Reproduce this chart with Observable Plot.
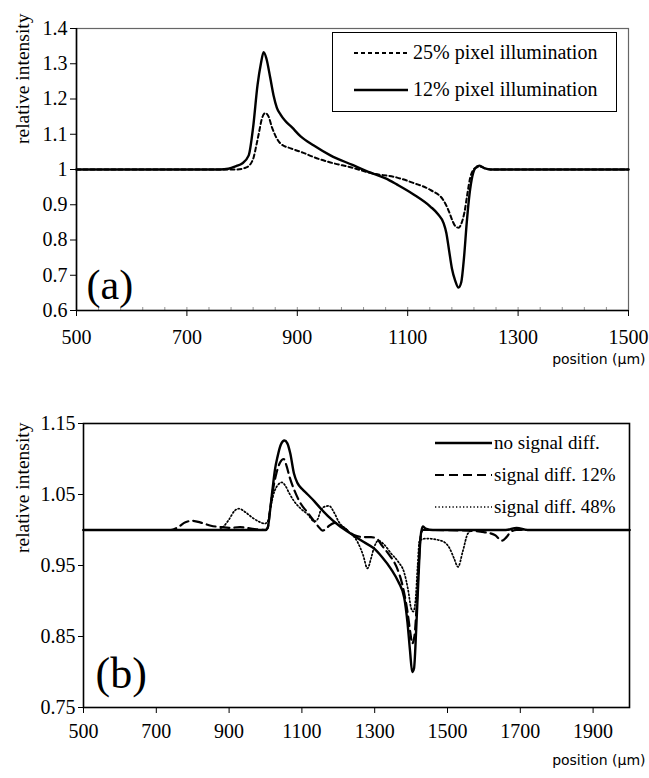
<!DOCTYPE html>
<html>
<head>
<meta charset="utf-8">
<script src="https://cdn.jsdelivr.net/npm/d3@7"></script>
<script src="https://cdn.jsdelivr.net/npm/@observablehq/plot@0.6"></script>
<style>
  html, body { margin: 0; padding: 0; background: #fff; }
  #wrap { position: relative; width: 649px; height: 778px; overflow: hidden; }
  #wrap svg { display: block; }
  #wrap svg, #wrap svg text { font-family: "Liberation Serif", "DejaVu Serif", serif; }
  #wrap svg .sans text, #wrap svg text.sans { font-family: "DejaVu Sans", sans-serif; }
  .overlay { position: absolute; left: 0; top: 0; pointer-events: none; }
</style>
</head>
<body>
<div id="wrap"></div>
<script>
// ---------- Panel (a) data ----------
const posA12 = [500, 760, 775, 790, 800, 812, 820, 828, 834, 839, 844, 851, 857, 863, 870, 878, 890, 906, 930, 960, 1000, 1033, 1060, 1081, 1110, 1141, 1155, 1165, 1170, 1175, 1180, 1186, 1192, 1197, 1202, 1207, 1212, 1217, 1222, 1230, 1240, 1250, 1500];
const valA12 = [1.0, 1.0, 1.002, 1.01, 1.017, 1.04, 1.12, 1.24, 1.30, 1.333, 1.315, 1.26, 1.21, 1.175, 1.155, 1.138, 1.12, 1.094, 1.068, 1.04, 1.013, 0.991, 0.975, 0.957, 0.93, 0.895, 0.873, 0.848, 0.82, 0.77, 0.72, 0.685, 0.665, 0.68, 0.75, 0.85, 0.93, 0.98, 1.003, 1.011, 1.003, 1.0, 1.0];
const posA25 = [500, 790, 806, 815, 821, 826, 830, 836, 842, 848, 854, 860, 870, 888, 910, 930, 960, 1000, 1033, 1081, 1110, 1141, 1165, 1175, 1181, 1187, 1192, 1198, 1203, 1208, 1213, 1218, 1225, 1232, 1240, 1250, 1500];
const valA25 = [1.0, 1.0, 1.005, 1.015, 1.035, 1.07, 1.10, 1.145, 1.16, 1.15, 1.12, 1.097, 1.073, 1.06, 1.048, 1.035, 1.02, 1.005, 0.99, 0.977, 0.962, 0.942, 0.912, 0.88, 0.855, 0.838, 0.835, 0.85, 0.88, 0.93, 0.975, 0.997, 1.006, 1.008, 1.003, 1.0, 1.0];
const ticksXA = [500, 700, 900, 1100, 1300, 1500];
const minorXA = d3.range(540, 1500, 40);
const ticksYA = [0.6, 0.7, 0.8, 0.9, 1.0, 1.1, 1.2, 1.3, 1.4];
const legendA = ["25% pixel illumination", "12% pixel illumination"];

// ---------- Panel (b) data ----------
const posB0 = [500, 1000, 1006, 1012, 1019, 1026, 1033, 1042, 1052, 1060, 1068, 1078, 1088, 1100, 1116, 1135, 1152, 1171, 1200, 1243, 1270, 1298, 1320, 1345, 1365, 1381, 1390, 1397, 1403, 1408, 1414, 1420, 1426, 1432, 1440, 1460, 1660, 1690, 1720, 2000];
const valB0 = [1.0, 1.0, 1.003, 1.025, 1.056, 1.085, 1.103, 1.12, 1.126, 1.122, 1.108, 1.08, 1.066, 1.058, 1.05, 1.04, 1.03, 1.02, 1.007, 0.992, 0.983, 0.974, 0.962, 0.945, 0.927, 0.905, 0.87, 0.83, 0.80, 0.805, 0.86, 0.93, 0.99, 1.005, 1.002, 1.0, 1.0, 1.003, 1.0, 1.0];
const posB12 = [500, 740, 760, 780, 800, 825, 850, 880, 900, 930, 960, 1000, 1006, 1013, 1020, 1030, 1040, 1050, 1058, 1066, 1080, 1097, 1115, 1130, 1145, 1157, 1170, 1190, 1210, 1243, 1270, 1290, 1305, 1320, 1340, 1360, 1375, 1390, 1398, 1403, 1409, 1415, 1421, 1426, 1432, 1460, 1560, 1600, 1630, 1650, 1662, 1675, 1690, 2000];
const valB12 = [1.0, 1.0, 1.004, 1.011, 1.013, 1.01, 1.006, 1.004, 1.003, 1.004, 1.002, 1.0, 1.003, 1.03, 1.055, 1.08, 1.095, 1.10, 1.09, 1.075, 1.055, 1.037, 1.025, 1.015, 1.005, 0.999, 1.004, 1.01, 1.005, 0.993, 0.99, 0.99, 0.988, 0.978, 0.965, 0.948, 0.925, 0.885, 0.855, 0.84, 0.85, 0.89, 0.95, 0.99, 1.0, 1.0, 0.999, 0.997, 0.993, 0.985, 0.99, 0.998, 1.0, 1.0];
const posB48 = [500, 870, 885, 900, 915, 927, 945, 965, 985, 998, 1006, 1015, 1025, 1035, 1045, 1055, 1065, 1078, 1097, 1116, 1134, 1143, 1152, 1163, 1175, 1188, 1202, 1226, 1253, 1268, 1280, 1290, 1298, 1310, 1325, 1345, 1365, 1381, 1392, 1400, 1406, 1412, 1418, 1423, 1441, 1482, 1505, 1518, 1529, 1542, 1556, 1570, 2000];
const valB48 = [1.0, 1.0, 1.005, 1.015, 1.027, 1.03, 1.025, 1.017, 1.011, 1.009, 1.012, 1.035, 1.055, 1.064, 1.067, 1.062, 1.052, 1.041, 1.03, 1.022, 1.012, 1.015, 1.028, 1.033, 1.034, 1.025, 1.011, 0.999, 0.983, 0.965, 0.946, 0.96, 0.975, 0.985, 0.98, 0.967, 0.955, 0.94, 0.915, 0.89, 0.885, 0.90, 0.95, 0.985, 0.988, 0.985, 0.975, 0.96, 0.948, 0.97, 0.995, 1.0, 1.0];
const ticksXB = [500, 700, 900, 1100, 1300, 1500, 1700, 1900];
const ticksYB = [0.75, 0.85, 0.95, 1.05, 1.15];
const legendB = ["no signal diff.", "signal diff. 12%", "signal diff. 48%"];

const xLabel = "position (\u00b5m)";
const yLabel = "relative intensity";

const zip = (xs, ys) => xs.map((x, i) => ({x, y: ys[i]}));

const wrap = document.getElementById("wrap");

// ---------- Panel (a) ----------
const plotA = Plot.plot({
  width: 649, height: 370,
  marginLeft: 76, marginRight: 21, marginTop: 28, marginBottom: 60,
  style: {fontSize: "20px", color: "#000", background: "#fff", overflow: "visible"},
  x: {domain: [500, 1500]},
  y: {domain: [0.6, 1.4]},
  marks: [
    Plot.frame({stroke: "#666", strokeWidth: 1.2}),
    Plot.axisX({ticks: minorXA, tickSize: 3, dy: -3, tickFormat: () => "", label: null, stroke: "#777", strokeWidth: 0.8}),
    Plot.axisX({ticks: ticksXA, tickSize: 6, tickPadding: 13, tickFormat: d => String(d), label: null, fontSize: 20}),
    Plot.axisY({ticks: ticksYA, tickSize: 6, tickPadding: 3, tickFormat: d => (d === 1 ? "1" : d3.format(".1f")(d)), label: null, fontSize: 20}),
    Plot.ruleX([500], {stroke: "#000", strokeWidth: 1.6}),
    Plot.ruleY([0.6], {stroke: "#000", strokeWidth: 1.6}),
    Plot.line(zip(posA25, valA25), {x: "x", y: "y", stroke: "#000", strokeWidth: 2, strokeDasharray: "4,3", curve: "monotone-x"}),
    Plot.line(zip(posA12, valA12), {x: "x", y: "y", stroke: "#000", strokeWidth: 2.4, curve: "monotone-x"}),
    Plot.text(["(a)"], {frameAnchor: "bottom-left", dx: 10, dy: -12, textAnchor: "start", lineAnchor: "bottom", fontSize: 42}),
    Plot.text([yLabel], {frameAnchor: "top-left", dx: -54, dy: -15, rotate: -90, textAnchor: "end", lineAnchor: "middle", fontSize: 19.5}),
    Plot.text([xLabel], {frameAnchor: "bottom-right", dx: 17, dy: 49, textAnchor: "end", lineAnchor: "middle", fontSize: 14, className: "sans"})
  ]
});
wrap.appendChild(plotA);

// ---------- Panel (b) ----------
const plotB = Plot.plot({
  width: 649, height: 408,
  marginLeft: 83, marginRight: 20, marginTop: 53, marginBottom: 71,
  style: {fontSize: "20px", color: "#000", background: "#fff", overflow: "visible"},
  x: {domain: [500, 2000]},
  y: {domain: [0.75, 1.15]},
  marks: [
    Plot.axisX({ticks: ticksXB, tickSize: 6, tickPadding: 10, tickFormat: d => String(d), label: null, fontSize: 20}),
    Plot.axisY({ticks: ticksYB, tickSize: 5, tickPadding: 3, tickFormat: d => d3.format(".2f")(d), label: null, fontSize: 20}),
    Plot.line(zip(posB48, valB48), {x: "x", y: "y", stroke: "#000", strokeWidth: 1.7, strokeDasharray: "1.3,2.2", curve: "monotone-x"}),
    Plot.line(zip(posB12, valB12), {x: "x", y: "y", stroke: "#000", strokeWidth: 2.2, strokeDasharray: "9,5", curve: "monotone-x"}),
    Plot.line(zip(posB0, valB0), {x: "x", y: "y", stroke: "#000", strokeWidth: 2.4, curve: "monotone-x"}),
    Plot.frame({stroke: "#000", strokeWidth: 1.6}),
    Plot.text(["(b)"], {frameAnchor: "bottom-left", dx: 12, dy: -20, textAnchor: "start", lineAnchor: "bottom", fontSize: 44}),
    Plot.text([yLabel], {frameAnchor: "top-left", dx: -61, dy: -1, rotate: -90, textAnchor: "end", lineAnchor: "middle", fontSize: 19.5}),
    Plot.text([xLabel], {frameAnchor: "bottom-right", dx: 16, dy: 53, textAnchor: "end", lineAnchor: "middle", fontSize: 14, className: "sans"})
  ]
});
wrap.appendChild(plotB);

// ---------- Legends (overlay SVG) ----------
const ov = d3.select(wrap).append("svg").attr("class", "overlay")
  .attr("width", 649).attr("height", 778);

// Legend (a): boxed
const la = ov.append("g");
la.append("rect").attr("x", 332.5).attr("y", 32.5).attr("width", 284).attr("height", 79)
  .attr("fill", "#fff").attr("stroke", "#000").attr("stroke-width", 1);
const stylesA = [{dash: "4,3", w: 2}, {dash: null, w: 2.4}];
legendA.forEach((t, i) => {
  const y = 53 + i * 37;
  la.append("line").attr("x1", 354).attr("x2", 408).attr("y1", y).attr("y2", y)
    .attr("stroke", "#000").attr("stroke-width", stylesA[i].w)
    .attr("stroke-dasharray", stylesA[i].dash);
  la.append("text").attr("x", 413).attr("y", y).attr("dy", "0.32em")
    .attr("font-size", 20).text(t);
});

// Legend (b): unboxed
const lb = ov.append("g");
const stylesB = [{dash: null, w: 2.4}, {dash: "9,5", w: 2.2}, {dash: "1.3,2.2", w: 1.7}];
legendB.forEach((t, i) => {
  const y = 443 + i * 32;
  lb.append("line").attr("x1", 435).attr("x2", 492).attr("y1", y).attr("y2", y)
    .attr("stroke", "#000").attr("stroke-width", stylesB[i].w)
    .attr("stroke-dasharray", stylesB[i].dash);
  lb.append("text").attr("x", 494).attr("y", y).attr("dy", "0.32em")
    .attr("font-size", 19).text(t);
});
</script>
</body>
</html>
